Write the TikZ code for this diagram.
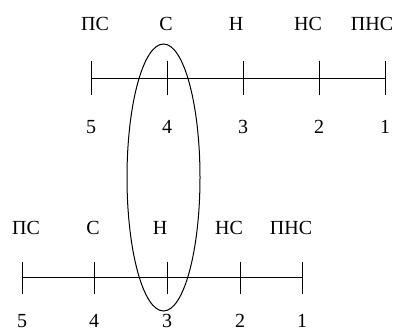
\documentclass[tikz,border=0pt]{standalone}
\usepackage{fontspec}
\setmainfont{Liberation Serif}
\begin{document}
\begin{tikzpicture}[x=1pt, y=-1pt, line width=0.8pt,
    lab/.style={anchor=base, inner sep=0pt, font=\fontsize{20}{24}\selectfont}]
    \useasboundingbox (0,0) rectangle (398,331);

    % upper scale
    \coordinate (ua) at (91,78);
    \coordinate (ub) at (385,78);
    \draw (ua) -- (ub);
    \foreach \x/\n in {91/5, 167/4, 243/3, 319/2, 385/1} {
        \draw (\x,61) -- (\x,95);
        \node[lab] (un\n) at (\x,134) {\n};
    }
    \foreach \x/\t/\k in {95/ПС/1, 166/С/2, 236/Н/3, 308/НС/4, 372/ПНС/5} {
        \node[lab] (ut\k) at (\x,31) {\t};
    }

    % lower scale
    \coordinate (la) at (22,277);
    \coordinate (lb) at (302,277);
    \draw (la) -- (lb);
    \foreach \x/\n in {22/5, 94/4, 167/3, 240/2, 302/1} {
        \draw (\x,262) -- (\x,294);
        \node[lab] (ln\n) at (\x,327) {\n};
    }
    \foreach \x/\t/\k in {26/ПС/1, 93/С/2, 160/Н/3, 229/НС/4, 291/ПНС/5} {
        \node[lab] (lt\k) at (\x,234) {\t};
    }

    % ellipse round the matching pair
    \draw[line width=1pt] (163.5,177.5) ellipse [x radius=36.5, y radius=133.5];
\end{tikzpicture}
\end{document}
